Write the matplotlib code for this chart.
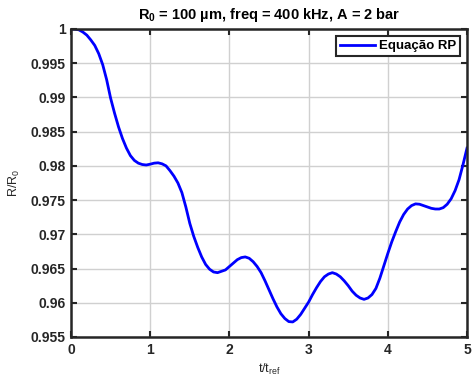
import matplotlib
matplotlib.use("Agg")
import matplotlib.pyplot as plt

plt.rcParams['font.family'] = ['Liberation Sans', 'DejaVu Sans']
plt.rcParams['mathtext.default'] = 'regular'

t = [0.00, 0.05, 0.10, 0.15, 0.20, 0.25, 0.30, 0.35, 0.40, 0.45,
     0.50, 0.55, 0.60, 0.65, 0.70, 0.75, 0.80, 0.85, 0.90, 0.95,
     1.00, 1.05, 1.10, 1.15, 1.20, 1.25, 1.30, 1.35, 1.40, 1.45,
     1.50, 1.55, 1.60, 1.65, 1.70, 1.75, 1.80, 1.85, 1.90, 1.95,
     2.00, 2.05, 2.10, 2.15, 2.20, 2.25, 2.30, 2.35, 2.40, 2.45,
     2.50, 2.55, 2.60, 2.65, 2.70, 2.75, 2.80, 2.85, 2.90, 2.95,
     3.00, 3.05, 3.10, 3.15, 3.20, 3.25, 3.30, 3.35, 3.40, 3.45,
     3.50, 3.55, 3.60, 3.65, 3.70, 3.75, 3.80, 3.85, 3.90, 3.95,
     4.00, 4.05, 4.10, 4.15, 4.20, 4.25, 4.30, 4.35, 4.40, 4.45,
     4.50, 4.55, 4.60, 4.65, 4.70, 4.75, 4.80, 4.85, 4.90, 4.95, 5.00]
r = [1.0000, 0.99997, 0.99988, 0.99955, 0.9991, 0.9984, 0.9976, 0.9964, 0.9948, 0.9926,
     0.9899, 0.9877, 0.9857, 0.9840, 0.9826, 0.9815, 0.9808, 0.9804, 0.9802, 0.98013,
     0.98025, 0.9804, 0.98045, 0.9803, 0.9800, 0.9793, 0.9785, 0.9775, 0.9761, 0.9740,
     0.9716, 0.9697, 0.9681, 0.9667, 0.9656, 0.9649, 0.9645, 0.9644, 0.9646, 0.9648,
     0.9653, 0.9658, 0.9663, 0.9666, 0.9667, 0.9665, 0.9660, 0.9653, 0.9644, 0.9632,
     0.9619, 0.9606, 0.9594, 0.9584, 0.9577, 0.95725, 0.9572, 0.9576, 0.9583, 0.9592,
     0.9601, 0.9612, 0.9622, 0.9631, 0.9638, 0.9642, 0.9644, 0.9642, 0.9638, 0.9632,
     0.9625, 0.9617, 0.9611, 0.9607, 0.9605, 0.9607, 0.9612, 0.9621, 0.9636, 0.9654,
     0.9672, 0.9689, 0.9704, 0.9718, 0.9729, 0.9737, 0.9742, 0.97445, 0.9744, 0.9742,
     0.9740, 0.9738, 0.9737, 0.9737, 0.9739, 0.9744, 0.9752, 0.9764, 0.9780, 0.9802, 0.9826]

xticks = [0, 1, 2, 3, 4, 5]
yticks = [0.955, 0.96, 0.965, 0.97, 0.975, 0.98, 0.985, 0.99, 0.995, 1]
ytick_labels = ['0.955', '0.96', '0.965', '0.97', '0.975', '0.98', '0.985', '0.99', '0.995', '1']

fig = plt.figure(figsize=(4.73, 3.87), dpi=100)
ax = fig.add_axes([71/473, 1-337/387, (467-71)/473, (337-29)/387])
ax.plot(t, r, color='#0000ff', lw=2, label='Equação RP')
ax.set_xlim(0, 5)
ax.set_ylim(0.955, 1.0)
ax.set_xticks(xticks)
ax.set_xticklabels([str(x) for x in xticks])
ax.set_yticks(yticks)
ax.set_yticklabels(ytick_labels)
ax.grid(True, color='#d0d0d0', lw=1)
ax.set_axisbelow(True)
for s in ax.spines.values():
    s.set_linewidth(1.8)
    s.set_color('#262626')
ax.tick_params(direction='in', top=True, right=True, length=4, width=1.5,
               labelsize=10, colors='#262626', pad=4)
for lab in ax.get_xticklabels() + ax.get_yticklabels():
    lab.set_fontweight('bold')
ax.set_title('R$_0$ = 100 µm, freq = 400 kHz, A = 2 bar', fontsize=10.5,
             fontweight='bold', pad=7, color='#000000')
ax.set_xlabel('t/t$_{ref}$', fontsize=9, color='#262626', labelpad=4)
ax.set_ylabel('R/R$_0$', fontsize=9, color='#262626', labelpad=6)
leg = ax.legend(loc='upper right', fancybox=False, edgecolor='#262626', framealpha=1,
                prop={'weight': 'bold', 'size': 9.5}, handlelength=2.7, borderpad=0.3,
                handletextpad=0.25, borderaxespad=0.55)
leg.get_frame().set_linewidth(1.5)
fig.savefig('out.png', dpi=100)
